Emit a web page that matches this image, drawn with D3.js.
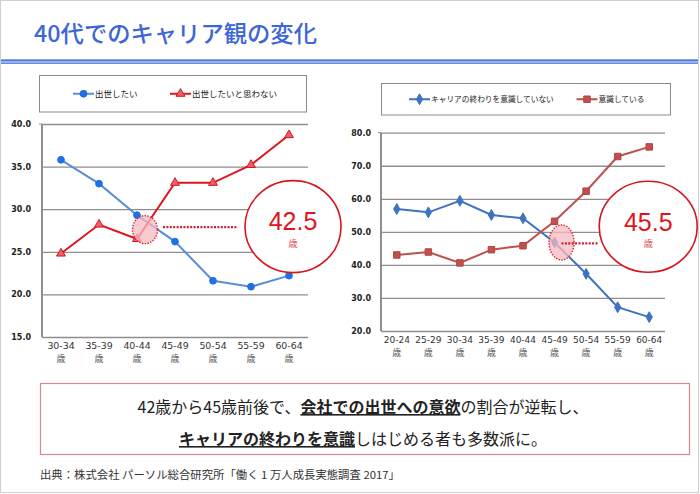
<!DOCTYPE html>
<html><head><meta charset="utf-8">
<script src="https://cdn.jsdelivr.net/npm/d3@7"></script>
<style>body{margin:0;background:#fff}svg{display:block}</style>
</head><body><svg id="c" width="700" height="494"></svg>
<script>
// ---- data ----
const leftCats = ["30-34","35-39","40-44","45-49","50-54","55-59","60-64"];
const wantPromotion = [35.8,33.0,29.3,26.2,21.6,20.9,22.2];
const noPromotion   = [24.8,28.2,26.5,33.1,33.1,35.2,38.7];
const leftTicks = [15,20,25,30,35,40];
const rightCats = ["20-24","25-29","30-34","35-39","40-44","45-49","50-54","55-59","60-64"];
const notConscious = [56.9,55.9,59.4,55.1,54.1,46.8,37.3,27.2,24.2];
const conscious    = [43.0,43.9,40.6,44.6,45.8,53.2,62.3,72.8,75.7];
const rightTicks = [20,30,40,50,60,70,80];
const leftLegend = ["出世したい","出世したいと思わない"];
const rightLegend = ["キャリアの終わりを意識していない","意識している"];
const crossLabels = ["42.5","45.5"];

const svg = d3.select("#c");
const JP = "'Noto Sans CJK JP','Noto Sans',sans-serif";
const LAT = "'DejaVu Sans',Verdana,sans-serif";

// page frame
svg.append("rect").attr("x",0.5).attr("y",0.5).attr("width",698).attr("height",492)
  .attr("fill","#fff").attr("stroke","#cfcfcf");

// title
svg.append("text").attr("x",34).attr("y",42).attr("font-family",JP).attr("font-size",23)
  .attr("font-weight",500).attr("fill","#3d66d6").attr("textLength",283).attr("lengthAdjust","spacingAndGlyphs")
  .text("40代でのキャリア観の変化");
// blue rule
svg.append("rect").attr("x",1).attr("y",59.5).attr("width",697).attr("height",4.5).attr("fill","#9fb7ec");
svg.append("line").attr("x1",1).attr("x2",698).attr("y1",60.3).attr("y2",60.3).attr("stroke","#4a74d8").attr("stroke-width",1.6);
svg.append("line").attr("x1",1).attr("x2",698).attr("y1",63.4).attr("y2",63.4).attr("stroke","#6a8ee0").attr("stroke-width",1.2);

function chart(o){
  const g = svg.append("g");
  const x = d3.scaleBand().domain(o.cats).range([o.x0,o.x1]);
  const y = d3.scaleLinear().domain(o.domain).range([o.y1,o.y0]);
  // gridlines + tick labels
  const ax = g.append("g").attr("transform",`translate(${o.x0},0)`)
    .call(d3.axisLeft(y).tickValues(o.ticks).tickSize(-(o.x1-o.x0)).tickPadding(o.pad).tickFormat(d3.format(".1f")));
  ax.select(".domain").remove();
  ax.selectAll(".tick line").attr("stroke","#8e8e8e").attr("stroke-width",1.3);
  ax.selectAll(".tick text").attr("font-family",LAT).attr("font-size",8).attr("fill","#222").attr("font-weight","bold");
  // y axis line
  g.append("line").attr("x1",o.x0).attr("x2",o.x0).attr("y1",o.y0).attr("y2",o.y1)
    .attr("stroke","#8e8e8e").attr("stroke-width",2);
  g.append("line").attr("x1",o.x0-3).attr("x2",o.x0).attr("y1",o.y0).attr("y2",o.y0).attr("stroke","#8e8e8e");
  // x labels
  const xa = g.append("g").attr("transform",`translate(0,${o.y1})`)
    .call(d3.axisBottom(x).tickSize(0).tickPadding(0).tickFormat(""));
  xa.select(".domain").remove();
  xa.selectAll(".tick").each(function(d){
    const t = d3.select(this);
    t.append("text").attr("y",o.lab1).attr("text-anchor","middle").attr("font-family",LAT)
      .attr("font-size",o.labSize).attr("fill","#333").text(d);
    t.append("text").attr("y",o.lab2).attr("text-anchor","middle").attr("font-family",JP)
      .attr("font-size",9).attr("fill","#555").text("歳");
  });
  const cx = d => x(d)+x.bandwidth()/2;
  const line = d3.line().x((v,i)=>cx(o.cats[i])).y(v=>y(v));
  o.series.forEach(s=>{
    g.append("path").datum(s.values).attr("d",line).attr("fill","none")
      .attr("stroke",s.color).attr("stroke-width",2);
    g.selectAll(null).data(s.values).enter().append("path")
      .attr("transform",(v,i)=>`translate(${cx(o.cats[i])},${y(v)})`)
      .attr("d",d3.symbol().type(s.sym).size(s.size))
      .attr("fill",s.mfill).attr("stroke",s.mstroke).attr("stroke-width",1);
  });
  // legend
  g.append("rect").attr("x",o.leg.x).attr("y",o.leg.y).attr("width",o.leg.w).attr("height",o.leg.h)
    .attr("fill","#fff").attr("stroke","#8a8a8a").attr("stroke-width",1);
  o.series.forEach((s,i)=>{
    const lx = o.leg.items[i], ly = o.leg.y+o.leg.h/2;
    g.append("line").attr("x1",lx).attr("x2",lx+21).attr("y1",ly).attr("y2",ly).attr("stroke",s.color).attr("stroke-width",2);
    g.append("path").attr("transform",`translate(${lx+10.5},${ly})`).attr("d",d3.symbol().type(s.sym).size(s.size))
      .attr("fill",s.mfill).attr("stroke",s.mstroke);
    g.append("text").attr("x",lx+22).attr("y",ly+3).attr("font-family",JP).attr("font-size",o.leg.fs)
      .attr("fill","#222").text(s.name);
  });
  // annotation
  const a = o.ann;
  const ex = cx(o.cats[a.cat])+a.dx, ey = y(a.ev);
  g.append("ellipse").attr("cx",ex).attr("cy",ey).attr("rx",a.rx).attr("ry",a.ry)
    .attr("fill","#f7b9c2").attr("fill-opacity",0.75).attr("stroke","#d0202c").attr("stroke-width",1.4)
    .attr("stroke-dasharray","1.4,1.4");
  g.append("line").attr("x1",a.l0).attr("x2",a.l1).attr("y1",y(a.lv)).attr("y2",y(a.lv))
    .attr("stroke","#c8202c").attr("stroke-width",2.4).attr("stroke-dasharray","2,1.4");
  const bx = cx(o.cats[o.cats.length-1])+a.bdx, by = y(a.bv);
  g.append("ellipse").attr("cx",bx).attr("cy",by).attr("rx",a.brx).attr("ry",a.bry)
    .attr("fill","#fff").attr("stroke","#d8141c").attr("stroke-width",1.6);
  g.append("text").attr("x",bx).attr("y",by+a.t1).attr("text-anchor","middle").attr("font-family","'Liberation Sans',Arial,sans-serif")
    .attr("font-size",25).attr("fill","#e0141c").text(a.label);
  g.append("text").attr("x",bx).attr("y",by+20).attr("text-anchor","middle").attr("font-family",JP)
    .attr("font-size",9.5).attr("fill","#d8505a").text("歳");
}

chart({
  cats:leftCats, domain:[15,40], ticks:leftTicks, x0:42, x1:308, y0:124, y1:337, pad:11,
  lab1:12, lab2:25, labSize:9.4,
  series:[
    {name:leftLegend[0], values:wantPromotion, color:"#5a8ed6", sym:d3.symbolCircle, size:36, mfill:"#1f6fe6", mstroke:"#1f6fe6"},
    {name:leftLegend[1], values:noPromotion, color:"#e0141c", sym:d3.symbolTriangle, size:34, mfill:"#e8606a", mstroke:"#d8141c"}
  ],
  leg:{x:39.5,y:75.5,w:267,h:36.5,items:[73,170],fs:8.5},
  ann:{cat:2, dx:8, ev:27.6, rx:12.5, ry:14, l0:163, l1:237, lv:27.9, bdx:4, bv:27.95, brx:48, bry:46, t1:3.5, label:crossLabels[0]}
});
chart({
  cats:rightCats, domain:[20,80], ticks:rightTicks, x0:381, x1:665, y0:132.7, y1:331, pad:10,
  lab1:12, lab2:24.5, labSize:9,
  series:[
    {name:rightLegend[0], values:notConscious, color:"#3f72c0", sym:d3.symbolDiamond, size:34, mfill:"#3f72c0", mstroke:"#3f72c0"},
    {name:rightLegend[1], values:conscious, color:"#c0504d", sym:d3.symbolSquare, size:42, mfill:"#c0504d", mstroke:"#b04540"}
  ],
  leg:{x:381.5,y:83.5,w:289,h:31.5,items:[409,576.5],fs:7.7},
  ann:{cat:5, dx:7, ev:46.8, rx:12.5, ry:17.5, l0:561.5, l1:598.5, lv:46.5, bdx:-1, bv:51.55, brx:49, bry:45.5, t1:4.3, label:crossLabels[1]}
});

// message box
svg.append("rect").attr("x",40.5).attr("y",383.5).attr("width",649).attr("height",71)
  .attr("fill","#fff").attr("stroke","#d48a8e").attr("stroke-width",1.2);
function richLine(yy, parts){
  const t = svg.append("text").attr("x",363).attr("y",yy).attr("text-anchor","middle")
    .attr("font-family",JP).attr("font-size",16).attr("fill","#222");
  parts.forEach(p=>{
    const s = t.append("tspan").text(p[0]);
    if(p[1]) s.attr("font-weight","bold").attr("text-decoration","underline");
  });
}
richLine(413,[["42歳から45歳前後で、"],["会社での出世への意欲",1],["の割合が逆転し、"]]);
richLine(445,[["キャリアの終わりを意識",1],["しはじめる者も多数派に。"]]);

svg.append("text").attr("x",40).attr("y",479).attr("font-family",JP).attr("font-size",11).attr("fill","#333")
  .attr("textLength",360).attr("lengthAdjust","spacingAndGlyphs")
  .text("出典：株式会社 パーソル総合研究所「働く 1 万人成長実態調査 2017」");
</script></body></html>
